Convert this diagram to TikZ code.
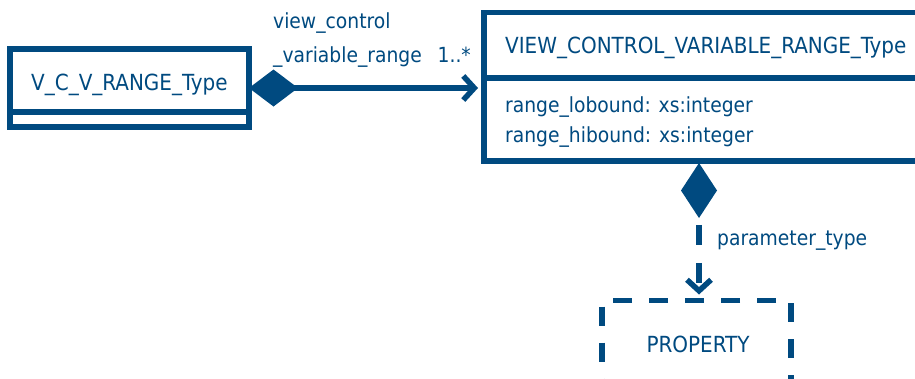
\documentclass[tikz,border=0pt]{standalone}
\usepackage{fontspec}
\setmainfont{DejaVu Sans Condensed}
\usetikzlibrary{arrows.meta}
\definecolor{umlblue}{RGB}{0,74,128}
\begin{document}
\begin{tikzpicture}[x=1pt,y=-1pt,
  box/.style={draw=umlblue, line width=5.5pt, inner sep=0pt, outer sep=0pt, anchor=north west, fill=white},
  lbl/.style={text=umlblue, font=\fontsize{22.2}{26}\selectfont, anchor=base west, inner sep=0pt},
  small/.style={lbl, font=\fontsize{20.8}{25}\selectfont},
  conn/.style={draw=umlblue, line width=5.5pt},
  dashbox/.style={box, dash pattern=on 19pt off 17pt},
]
\useasboundingbox (0,0) rectangle (915,378);
\clip (0,0) rectangle (915,378);
% left class
\node[box, minimum width=239pt, minimum height=78pt] (vcv) at (10,49) {};
\draw[conn] (vcv.west |- 0,112) -- (vcv.east |- 0,112);
\node[lbl] (vcvname) at (31,90) {V\_C\_V\_RANGE\_Type};
% right class
\node[box, minimum width=456pt, minimum height=148.5pt] (vcvr) at (484,12.5) {};
\draw[conn] (vcvr.west |- 0,78) -- (vcvr.east |- 0,78);
\node[lbl] (vcvrname) at (505,53) {VIEW\_CONTROL\_VARIABLE\_RANGE\_Type};
\node[small] (attr1) at (505,112) {range\_lobound: xs:integer};
\node[small] (attr2) at (505,142) {range\_hibound: xs:integer};
% property
\node[dashbox, minimum width=189pt, minimum height=120pt] (prop) at (602,300.5) {};
\node[lbl, anchor=base] (propname) at (698,352) {PROPERTY};
% connector 1
\draw[conn, {Diamond[length=49pt,width=37pt]}-{Straight Barb[length=11pt,width=24pt]}, shorten >=6pt]
  (vcv.east) -- (vcvr.west |- vcv.east);
\node[small] (role1a) at (273,28) {view\_control};
\node[small] (role1b) at (273,62) {\_variable\_range};
\node[small, anchor=base east] (mult1) at (471,62) {1..*};
% connector 2
\coordinate (ptop) at (699,163);
\draw[conn, dash pattern=on 20pt off 18pt, dash phase=26pt, shorten >=6pt, {Diamond[length=55pt,width=36pt]}-{Straight Barb[length=11pt,width=24pt]}]
  (ptop) -- (ptop |- prop.north);
\node[small] (role2) at (717,245) {parameter\_type};
\end{tikzpicture}
\end{document}
